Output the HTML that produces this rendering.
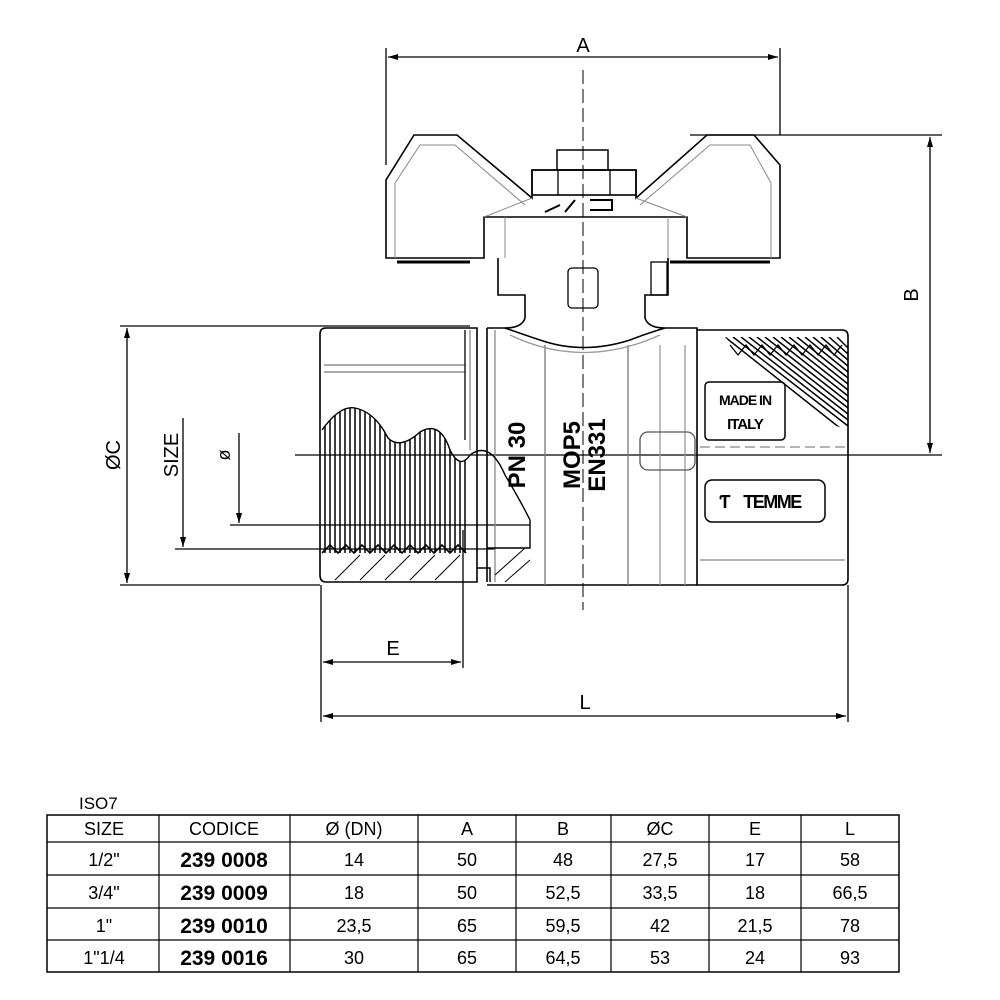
<!DOCTYPE html>
<html><head><meta charset="utf-8"><style>
html,body{margin:0;padding:0;background:#fff;width:1000px;height:1000px;overflow:hidden}
svg{position:absolute;left:0;top:0}
text{font-family:"Liberation Sans",sans-serif}
</style></head><body>
<svg width="1000" height="1000" viewBox="0 0 1000 1000">
<defs>
<marker id="ar" markerWidth="10" markerHeight="8" refX="10" refY="4" orient="auto-start-reverse" markerUnits="userSpaceOnUse"><path d="M0,1 L10,4 L0,7 Z" fill="#000"/></marker>
<clipPath id="thr"><path d="M322,430 Q340,405 355,408 Q375,412 388,438 Q400,450 420,432 Q440,420 450,450 Q460,470 470,455 L470,555 L322,555 Z"/></clipPath>
<clipPath id="rthr"><path d="M725,337 L848,337 L848,430 L790,410 Z"/></clipPath>
</defs>
<g stroke="#000" fill="none" stroke-width="1.3">
<line x1="386" y1="48" x2="386" y2="165"/>
<line x1="780" y1="48" x2="780" y2="135"/>
<line x1="388" y1="57" x2="778" y2="57" marker-start="url(#ar)" marker-end="url(#ar)"/>
<line x1="690" y1="135" x2="942" y2="135"/>
<line x1="295" y1="455" x2="942" y2="455"/>
<line x1="930" y1="137" x2="930" y2="453" marker-start="url(#ar)" marker-end="url(#ar)"/>
<line x1="120" y1="326" x2="470" y2="326"/>
<line x1="120" y1="585" x2="320" y2="585"/>
<line x1="127" y1="328" x2="127" y2="583" marker-start="url(#ar)" marker-end="url(#ar)"/>
<line x1="175" y1="549" x2="495" y2="549"/>
<line x1="183" y1="418" x2="183" y2="547" marker-end="url(#ar)"/>
<line x1="230" y1="525" x2="530" y2="525"/>
<line x1="239" y1="433" x2="239" y2="523" marker-end="url(#ar)"/>
<line x1="321" y1="585" x2="321" y2="722"/>
<line x1="463" y1="530" x2="463" y2="668"/>
<line x1="848" y1="585" x2="848" y2="722"/>
<line x1="323" y1="662" x2="461" y2="662" marker-start="url(#ar)" marker-end="url(#ar)"/>
<line x1="323" y1="716" x2="846" y2="716" marker-start="url(#ar)" marker-end="url(#ar)"/>
<line x1="583" y1="70" x2="583" y2="610" stroke-dasharray="14,5" stroke-width="1"/>
<path d="M386,258 L386,180 L414,135 L457,135 L532,198 L532,170 L636,170 L636,198 L707,135 L754,135 L780,165 L780,258 L687,258 L687,217 L484,217 L484,258 Z" stroke-width="1.6"/>
<path d="M395,258 L395,183 L420,145 L455,145 L525,205" stroke="#888" stroke-width="1"/>
<path d="M771,258 L771,183 L750,145 L710,145 L640,205" stroke="#888" stroke-width="1"/>
<path d="M484,217 L532,198 M687,217 L636,198 M505,217 L505,258 M668,217 L668,258" stroke="#888" stroke-width="1"/>
<rect x="557" y="150" width="51" height="20" stroke-width="1.5"/>
<rect x="532" y="170" width="104" height="25" stroke-width="1.6"/>
<line x1="558" y1="170" x2="558" y2="195"/><line x1="610" y1="170" x2="610" y2="195"/>
<path d="M560,205 L545,212 M575,200 L565,212 M590,200 L612,200 L612,210 L590,210" stroke-width="2"/>
<line x1="397" y1="262" x2="470" y2="262" stroke-width="3"/>
<line x1="670" y1="262" x2="770" y2="262" stroke-width="3"/>
<path d="M498,258 L498,295 L525,295 L525,318 Q522,328 505,328 M668,258 L668,295 L645,295 L645,318 Q648,328 665,328" stroke-width="1.6"/>
<rect x="568" y="268" width="30" height="40" rx="4"/>
<rect x="651" y="262" width="16" height="33"/>
<path d="M326,328 L477,328 L477,582 L326,582 Q320,582 320,575 L320,334 Q320,328 326,328 Z" stroke-width="1.6"/>
<line x1="324" y1="365" x2="465" y2="365" stroke="#777"/>
<line x1="324" y1="372" x2="465" y2="372" stroke="#777"/>
<line x1="465" y1="330" x2="465" y2="440"/>
<line x1="470" y1="330" x2="470" y2="450" stroke="#888"/>
<line x1="487" y1="328" x2="487" y2="582" stroke-width="1.6"/>
<line x1="495" y1="330" x2="495" y2="582" stroke="#888"/>
<path d="M322,430 Q340,405 355,408 Q375,412 388,438 Q400,450 420,432 Q440,420 450,450 Q460,470 470,455 Q490,440 505,475 Q520,500 530,520 L530,548 L487,548" stroke-width="1.4"/>
<g clip-path="url(#thr)" stroke-width="1.5">
<path d="M325,400 V553 M330,400 V553 M335,400 V553 M340,400 V553 M345,400 V553 M350,400 V553 M355,400 V553 M360,400 V553 M365,400 V553 M370,400 V553 M375,400 V553 M380,400 V553 M385,400 V553 M390,400 V553 M395,400 V553 M400,400 V553 M405,400 V553 M410,400 V553 M415,400 V553 M420,400 V553 M425,400 V553 M430,400 V553 M435,400 V553 M440,400 V553 M445,400 V553 M450,400 V553 M455,400 V553 M460,400 V553 M465,400 V553"/>
</g>
<path d="M322,553 L330,545 L338,553 L346,545 L354,553 L362,545 L370,553 L378,545 L386,553 L394,545 L402,553 L410,545 L418,553 L426,545 L434,553 L442,545 L450,553 L458,545 L466,553" stroke-width="1.6"/>
<path d="M335,580 L360,555 M360,580 L385,555 M385,580 L410,555 M410,580 L435,555 M435,580 L460,555 M495,575 L525,548 M505,582 L530,560" stroke-width="1"/>
<path d="M477,568 L490,568 L490,582" stroke-width="1.4"/>
<path d="M487,328 L505,328 Q525,335 540,340 Q583,355 630,340 Q645,334 665,328 L697,328 L697,585 L487,585" stroke-width="1.6"/>
<path d="M545,345 L545,585 M628,345 L628,585" stroke="#777"/>
<path d="M510,335 Q583,370 660,335" stroke="#999"/>
<path d="M660,345 L660,585 M685,345 L685,585" stroke="#999"/>
<rect x="640" y="432" width="55" height="38" rx="8" stroke="#555"/>
<path d="M697,330 L842,330 Q848,330 848,336 L848,579 Q848,585 842,585 L697,585" stroke-width="1.6"/>
<g clip-path="url(#rthr)" stroke-width="1.5">
<path d="M725,337 L845,432 M733,337 L848,426 M741,337 L848,420 M749,337 L848,414 M757,337 L848,408 M765,337 L848,402 M773,337 L848,396 M781,337 L848,390 M789,337 L848,384 M797,337 L848,378 M805,337 L848,372 M813,337 L848,366 M821,337 L848,360 M829,337 L848,354 M837,337 L848,348"/>
</g>
<path d="M730,345 L738,355 L746,345 L754,355 L762,345 L770,355 L778,345 L786,355 L794,345 L802,355 L810,345 L818,355 L826,345 L834,355 L842,345" stroke-width="1.3"/>
<line x1="700" y1="447" x2="845" y2="447" stroke="#888" stroke-dasharray="10,5"/>
<line x1="700" y1="560" x2="845" y2="560" stroke="#888"/>
<rect x="705" y="382" width="80" height="58" rx="4" stroke-width="1.5"/>
<rect x="705" y="480" width="120" height="42" rx="7" stroke-width="1.5"/>
<rect x="47" y="815" width="852" height="157" stroke-width="1.5"/>
<path d="M47,842 H899 M47,875 H899 M47,908 H899 M47,940 H899 M159,815 V972 M290,815 V972 M418,815 V972 M516,815 V972 M611,815 V972 M709,815 V972 M801,815 V972" stroke-width="1.2"/>
</g>
<g font-size="20" text-anchor="middle">
<text x="583" y="52">A</text>
<text x="393" y="655">E</text>
<text x="585" y="709">L</text>
<text transform="translate(918,295) rotate(-90)">B</text>
<text transform="translate(120,455) rotate(-90)">ØC</text>
<text transform="translate(178,455) rotate(-90)">SIZE</text>
<text transform="translate(230,455) rotate(-90)" font-size="18">ø</text>
</g>
<g font-weight="bold" text-anchor="middle">
<text transform="translate(525,455) rotate(-90)" font-size="24">PN 30</text>
<text transform="translate(580,455) rotate(-90)" font-size="24">MOP5</text>
<text transform="translate(605,455) rotate(-90)" font-size="24">EN331</text>
<text x="745" y="405" font-size="14" letter-spacing="-1">MADE IN</text>
<text x="745" y="429" font-size="15" letter-spacing="-1">ITALY</text>
<text x="772" y="508" font-size="18" letter-spacing="-1.5">TEMME</text>
<text x="725" y="508" font-size="18">Ƭ</text>
</g>
<g font-size="18" text-anchor="middle">
<text x="79" y="809" text-anchor="start" font-size="17">ISO7</text>
<text x="104" y="835">SIZE</text><text x="224" y="835">CODICE</text><text x="354" y="835">Ø (DN)</text><text x="467" y="835">A</text><text x="563" y="835">B</text><text x="660" y="835">ØC</text><text x="755" y="835">E</text><text x="850" y="835">L</text>
<text x="104" y="866">1/2"</text><text x="224" y="867" font-weight="bold" font-size="21">239 0008</text><text x="354" y="866">14</text><text x="467" y="866">50</text><text x="563" y="866">48</text><text x="660" y="866">27,5</text><text x="755" y="866">17</text><text x="850" y="866">58</text>
<text x="104" y="899">3/4"</text><text x="224" y="900" font-weight="bold" font-size="21">239 0009</text><text x="354" y="899">18</text><text x="467" y="899">50</text><text x="563" y="899">52,5</text><text x="660" y="899">33,5</text><text x="755" y="899">18</text><text x="850" y="899">66,5</text>
<text x="104" y="932">1"</text><text x="224" y="933" font-weight="bold" font-size="21">239 0010</text><text x="354" y="932">23,5</text><text x="467" y="932">65</text><text x="563" y="932">59,5</text><text x="660" y="932">42</text><text x="755" y="932">21,5</text><text x="850" y="932">78</text>
<text x="104" y="964">1"1/4</text><text x="224" y="965" font-weight="bold" font-size="21">239 0016</text><text x="354" y="964">30</text><text x="467" y="964">65</text><text x="563" y="964">64,5</text><text x="660" y="964">53</text><text x="755" y="964">24</text><text x="850" y="964">93</text>
</g>
</svg>
</body></html>
